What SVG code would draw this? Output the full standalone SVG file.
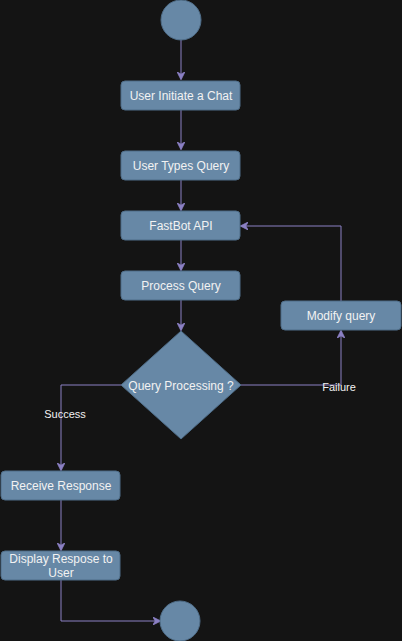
<svg xmlns="http://www.w3.org/2000/svg" width="402" height="641" viewBox="0 0 402 641">
<style>
.n{fill:#6788a6;stroke:#4f6d88;stroke-width:1}
.t{font-family:"Liberation Sans",Arial,sans-serif;font-size:12px;fill:#f2f2f2;text-anchor:middle}
.e{fill:none;stroke:#8b80c4;stroke-width:1}
.lbl{font-family:"Liberation Sans",Arial,sans-serif;font-size:11px;fill:#f2f2f2;text-anchor:middle}
</style>
<defs>
<marker id="a" viewBox="0 0 10 10" refX="9" refY="5" markerWidth="8" markerHeight="8" orient="auto" markerUnits="userSpaceOnUse">
<path d="M0,0 L10,5 L0,10 L3,5 Z" fill="#8b80c4" stroke="#8b80c4"/>
</marker>
</defs>
<rect width="402" height="641" fill="#141414"/>
<g id="connectors">
<path class="e" d="M181,40 V79" marker-end="url(#a)"/>
<path class="e" d="M181,110 V149" marker-end="url(#a)"/>
<path class="e" d="M181,180 V210" marker-end="url(#a)"/>
<path class="e" d="M181,240 V270" marker-end="url(#a)"/>
<path class="e" d="M181,300 V330" marker-end="url(#a)"/>
<path class="e" d="M241,385 H341 V331" marker-end="url(#a)"/>
<path class="e" d="M341,301 V226 H241" marker-end="url(#a)"/>
<path class="e" d="M121,385 H61 V470" marker-end="url(#a)"/>
<path class="e" d="M61,500 V550" marker-end="url(#a)"/>
<path class="e" d="M61,580 V621 H160" marker-end="url(#a)"/>
<rect x="323" y="381" width="32" height="12" fill="#141414" opacity="0"/>
<text class="lbl" x="339" y="391">Failure</text>
<text class="lbl" x="65" y="418">Success</text>
</g>
<g id="start"><circle class="n" cx="181" cy="20" r="20"/></g>
<g id="n1"><rect class="n" x="121" y="81" width="119" height="29" rx="4"/><text class="t" x="181" y="100">User Initiate a Chat</text></g>
<g id="n2"><rect class="n" x="121" y="151" width="119" height="29" rx="4"/><text class="t" x="181" y="170">User Types Query</text></g>
<g id="n3"><rect class="n" x="121" y="211" width="119" height="29" rx="4"/><text class="t" x="181" y="230">FastBot API</text></g>
<g id="n4"><rect class="n" x="121" y="271" width="119" height="29" rx="4"/><text class="t" x="181" y="290">Process Query</text></g>
<g id="dec"><path class="n" d="M181,331 L241,385 L181,439 L121,385 Z"/><text class="t" x="181" y="390">Query Processing ?</text></g>
<g id="mod"><rect class="n" x="281" y="301" width="120" height="29" rx="4"/><text class="t" x="341" y="320">Modify query</text></g>
<g id="recv"><rect class="n" x="1" y="471" width="119" height="29" rx="4"/><text class="t" x="61" y="490">Receive Response</text></g>
<g id="disp"><rect class="n" x="1" y="551" width="119" height="29" rx="4"/><text class="t" x="61" y="563">Display Respose to</text><text class="t" x="61" y="577">User</text></g>
<g id="end"><circle class="n" cx="180" cy="621" r="20"/></g>
</svg>
